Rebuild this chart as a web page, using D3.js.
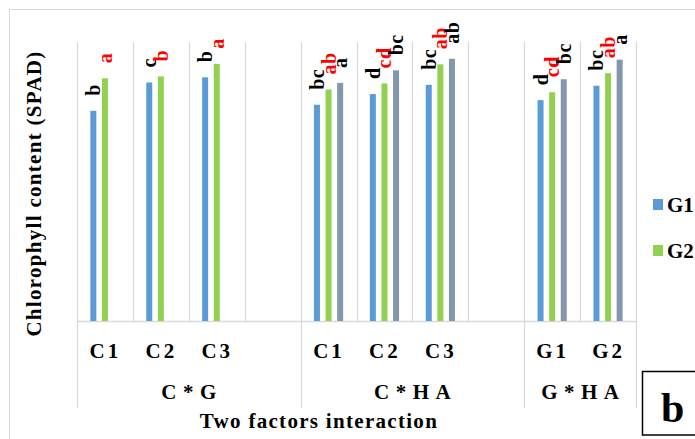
<!DOCTYPE html>
<html>
<head>
<meta charset="utf-8">
<script src="https://cdn.jsdelivr.net/npm/d3@7"></script>
<style>
  html, body { margin: 0; padding: 0; background: #fff; }
  svg { display: block; }
  text { font-family: "Liberation Serif", "Times New Roman", serif; font-weight: 700; }
</style>
</head>
<body>
<svg id="chart" width="695" height="439"></svg>
<script>
// ---- data ----
const groups = ["C*G", "C*HA", "G*HA"];
const categoryLabels = ["C1", "C2", "C3", "", "C1", "C2", "C3", "", "G1", "G2"];
const categoryGroups = ["C*G", "C*G", "C*G", "C*G", "C*HA", "C*HA", "C*HA", "C*HA", "G*HA", "G*HA"];
const seriesNames = ["G1", "G2", "G3"];
const g1Values = [45.2, 51.3, 52.4, null, 46.5, 48.8, 50.8, null, 47.5, 50.6];
const g2Values = [52.2, 52.6, 55.3, null, 49.8, 51.1, 55.2, null, 49.2, 53.3];
const g3Values = [null, null, null, null, 51.2, 53.9, 56.4, null, 52.0, 56.2];
const g1Letters = ["b", "c", "b", "", "bc", "d", "bc", "", "d", "bc"];
const g2Letters = ["a", "b", "a", "", "ab", "cd", "ab", "", "cd", "ab"];
const g3Letters = ["", "", "", "", "a", "bc", "ab", "", "bc", "a"];
const legendNames = ["G1", "G2"];
const yDomain = [0, 60];
const axisTitle = "Chlorophyll content (SPAD)";
const xTitle = "Two factors interaction";
const panelLetter = "b";

const colors = ["#5B9BD5", "#92D050", "#8497B0"];
const labelColors = ["#000000", "#FF0000", "#000000"];
const gridColor = "#D9D9D9";

(function () {
const svg = d3.select("#chart");

// outer chart border
svg.append("rect").attr("x", 9.5).attr("y", 9.5).attr("width", 720).attr("height", 460)
  .attr("fill", "none").attr("stroke", gridColor).attr("stroke-width", 1);

const pLeft = 77, pRight = 636, pTop = 42, pBottom = 321, groupBottom = 408;
const idx = d3.range(categoryLabels.length);
const x = d3.scaleBand().domain(idx).range([pLeft, pRight]).padding(0);
const xs = d3.scaleBand().domain([0, 1, 2]).range([-17.4, 17.4]).padding(0);
const y = d3.scaleLinear().domain(yDomain).range([pBottom, pTop]);
const barW = 6;

// vertical gridlines at category boundaries
const boundaries = d3.range(categoryLabels.length + 1).map(i => pLeft + i * x.step());
const groupEdges = new Set([0]);
categoryGroups.forEach((g, i) => { if (i > 0 && g !== categoryGroups[i - 1]) groupEdges.add(i); });
groupEdges.add(categoryLabels.length);
boundaries.forEach((bx, i) => {
  svg.append("line")
    .attr("x1", Math.round(bx) + 0.5).attr("x2", Math.round(bx) + 0.5)
    .attr("y1", pTop).attr("y2", groupEdges.has(i) ? groupBottom : pBottom)
    .attr("stroke", gridColor).attr("stroke-width", 1.3);
});
// category axis line
svg.append("line").attr("x1", pLeft).attr("x2", pRight + 1).attr("y1", pBottom + 0.5).attr("y2", pBottom + 0.5)
  .attr("stroke", gridColor).attr("stroke-width", 1.5);

// bars
const series = [g1Values, g2Values, g3Values];
const letters = [g1Letters, g2Letters, g3Letters];
series.forEach((vals, s) => {
  const data = idx.filter(i => vals[i] != null).map(i => ({ i, v: vals[i], t: letters[s][i] }));
  const cx = d => x(d.i) + x.bandwidth() / 2 + xs(s) + xs.bandwidth() / 2;
  svg.append("g").selectAll("rect").data(data).join("rect")
    .attr("x", d => cx(d) - barW / 2)
    .attr("y", d => y(d.v))
    .attr("width", barW)
    .attr("height", d => y(0) - y(d.v))
    .attr("fill", colors[s]);
  svg.append("g").selectAll("text").data(data.filter(d => d.t)).join("text")
    .attr("transform", d => `translate(${cx(d) + 7},${y(d.v) - 15}) rotate(-90)`)
    .attr("font-size", 20)
    .attr("letter-spacing", 0.5)
    .attr("fill", labelColors[s])
    .text(d => d.t);
});

// category labels
const catLs = 3;
svg.append("g").selectAll("text").data(idx.filter(i => categoryLabels[i])).join("text")
  .attr("x", i => x(i) + x.bandwidth() / 2 - 1 + catLs / 2)
  .attr("y", 358)
  .attr("text-anchor", "middle")
  .attr("font-size", 21)
  .attr("letter-spacing", catLs)
  .text(i => categoryLabels[i]);

// group labels
const grpLs = 6.5;
groups.forEach(g => {
  const members = idx.filter(i => categoryGroups[i] === g);
  const x0 = x(members[0]), x1 = x(members[members.length - 1]) + x.bandwidth();
  svg.append("text")
    .attr("x", (x0 + x1) / 2 + grpLs / 2)
    .attr("y", 399)
    .attr("text-anchor", "middle")
    .attr("font-size", 21)
    .attr("letter-spacing", grpLs)
    .text(g);
});

// axis titles
svg.append("text")
  .attr("transform", `translate(41,${193.5}) rotate(-90)`)
  .attr("text-anchor", "middle")
  .attr("font-size", 21)
  .attr("letter-spacing", 1.3)
  .text(axisTitle);
svg.append("text")
  .attr("x", 319).attr("y", 428)
  .attr("text-anchor", "middle")
  .attr("font-size", 21)
  .attr("letter-spacing", 1.3)
  .text(xTitle);

// legend
legendNames.forEach((n, k) => {
  const ly = 199 + k * 46;
  svg.append("rect").attr("x", 653).attr("y", ly).attr("width", 10).attr("height", 11).attr("fill", colors[k]);
  svg.append("text").attr("x", 667).attr("y", ly + 13).attr("font-size", 21).text(n);
});

// panel letter box
svg.append("rect").attr("x", 642.5).attr("y", 371.5).attr("width", 80).attr("height", 63.5)
  .attr("fill", "#fff").attr("stroke", "#000").attr("stroke-width", 1.5);
svg.append("text").attr("x", 661).attr("y", 422).attr("font-size", 42).text(panelLetter);
})();
</script>
</body>
</html>
